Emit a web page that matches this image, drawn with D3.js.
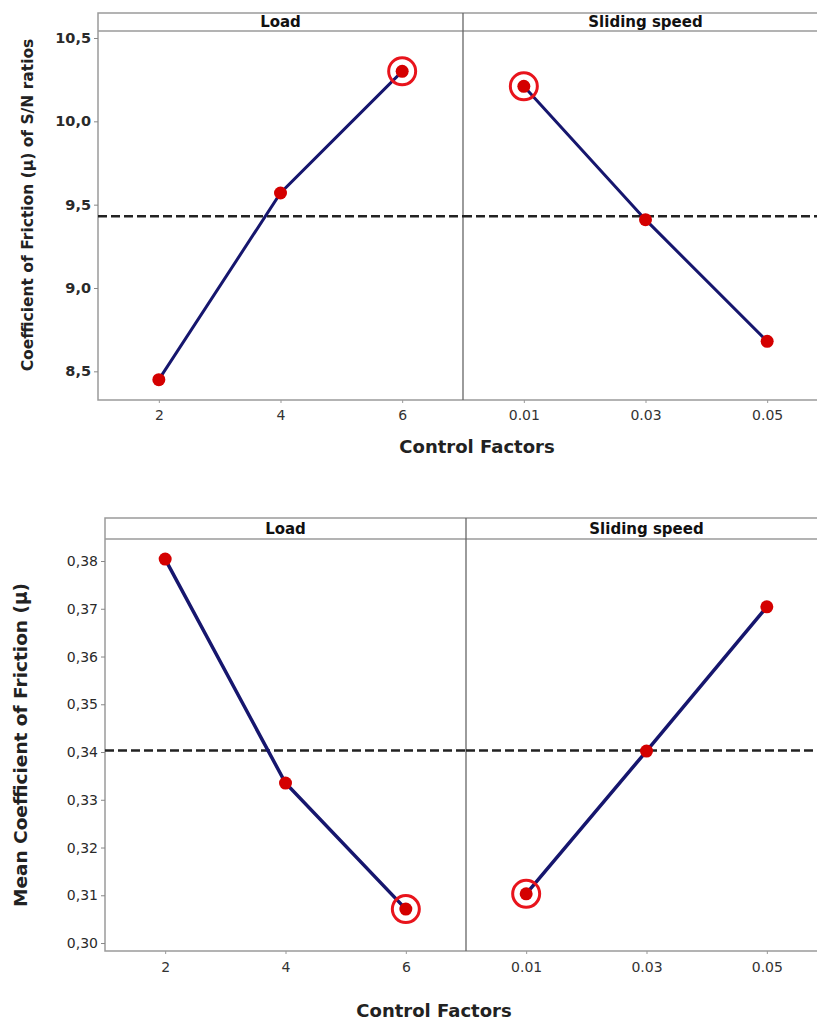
<!DOCTYPE html>
<html>
<head>
<meta charset="utf-8">
<script src="https://cdn.jsdelivr.net/npm/d3@7"></script>
<style>
  html, body { margin: 0; padding: 0; background: #fff; }
  svg { display: block; font-family: "DejaVu Sans", "Noto Sans", sans-serif; }
</style>
</head>
<body>
<svg id="chart" width="817" height="1021"></svg>
<script>
// ---- Data ----
const factors = ["Load", "Sliding speed"];
const loadLevels = ["2", "4", "6"];
const speedLevels = ["0.01", "0.03", "0.05"];

// Top chart: S/N ratios
const snLoad = [8.45, 9.57, 10.30];
const snSpeed = [10.21, 9.41, 8.68];
const snMean = 9.43;
const snTicks = [8.5, 9.0, 9.5, 10.0, 10.5];
const snHighlight = [2, 0];

// Bottom chart: means
const meanLoad = [0.3804, 0.3335, 0.3071];
const meanSpeed = [0.3103, 0.3402, 0.3704];
const meanMean = 0.3403;
const meanTicks = [0.30, 0.31, 0.32, 0.33, 0.34, 0.35, 0.36, 0.37, 0.38];
const meanHighlight = [2, 0];

const svg = d3.select("#chart");

function drawChart(cfg) {
  const g = svg.append("g");
  const y = d3.scaleLinear().domain(cfg.yDomain).range([cfg.bottom, cfg.stripBottom]);
  const panelEdges = [cfg.left, cfg.divider, cfg.right];
  const levels = [loadLevels, speedLevels];

  // frame
  g.append("rect").attr("x", cfg.left).attr("y", cfg.top)
    .attr("width", cfg.right - cfg.left).attr("height", cfg.bottom - cfg.top)
    .attr("fill", "#fff").attr("stroke", "#9a9a9a").attr("stroke-width", 1.5);
  g.append("line").attr("x1", cfg.left).attr("x2", cfg.right)
    .attr("y1", cfg.stripBottom).attr("y2", cfg.stripBottom)
    .attr("stroke", "#9a9a9a").attr("stroke-width", 1.5);
  g.append("line").attr("x1", cfg.divider).attr("x2", cfg.divider)
    .attr("y1", cfg.top).attr("y2", cfg.bottom)
    .attr("stroke", "#666").attr("stroke-width", 1.3);

  // y axis
  const yAxis = d3.axisLeft(y).tickValues(cfg.yTicks).tickSize(4).tickPadding(3)
    .tickFormat(d => d3.format(cfg.yFormat)(d).replace(".", ","));
  const ya = g.append("g").attr("transform", `translate(${cfg.left},0)`).call(yAxis);
  ya.select(".domain").remove();
  ya.selectAll(".tick line").attr("stroke", "#888");
  ya.selectAll(".tick text").attr("fill", "#2a2a2a")
    .style("font-family", "'DejaVu Sans', sans-serif")
    .style("font-size", cfg.yTickSize + "px").style("font-weight", cfg.yTickWeight);

  factors.forEach((f, i) => {
    const x0 = panelEdges[i], x1 = panelEdges[i + 1];
    const x = d3.scalePoint().domain(levels[i]).range([x0, x1]).padding(0.5);
    const vals = cfg.series[i];

    // strip label
    g.append("text")
      .attr("x", i === 0 ? (x0 + x1) / 2 : x(levels[i][1]))
      .attr("y", (cfg.top + cfg.stripBottom) / 2 + cfg.stripSize * 0.36)
      .attr("text-anchor", "middle").attr("fill", "#111")
      .style("font-size", cfg.stripSize + "px").style("font-weight", "bold").text(f);

    // x axis
    const xa = g.append("g").attr("transform", `translate(0,${cfg.bottom})`)
      .call(d3.axisBottom(x).tickSize(3).tickPadding(cfg.xTickPad));
    xa.select(".domain").remove();
    xa.selectAll(".tick line").attr("stroke", "#999");
    xa.selectAll(".tick text").attr("fill", "#333")
      .style("font-family", "'DejaVu Sans', sans-serif")
      .style("font-size", cfg.xTickSize + "px");

    // mean dashed line
    g.append("line").attr("x1", x0).attr("x2", x1)
      .attr("y1", y(cfg.mean)).attr("y2", y(cfg.mean))
      .attr("stroke", "#222").attr("stroke-width", 2.5).attr("stroke-dasharray", "9,4");

    // main line
    const line = d3.line().x((d, j) => x(levels[i][j])).y(d => y(d));
    g.append("path").datum(vals).attr("d", line)
      .attr("fill", "none").attr("stroke", "#16166e").attr("stroke-width", cfg.lineW);

    // highlight ring
    const h = cfg.highlight[i];
    g.append("circle").attr("cx", x(levels[i][h])).attr("cy", y(vals[h]))
      .attr("r", 13.5).attr("fill", "none").attr("stroke", "#e8141c").attr("stroke-width", 3);

    // points
    g.selectAll(null).data(vals).enter().append("circle")
      .attr("cx", (d, j) => x(levels[i][j])).attr("cy", d => y(d))
      .attr("r", cfg.dotR).attr("fill", "#d40000");
  });

  // axis titles
  g.append("text")
    .attr("transform", `translate(${cfg.yTitleX},${cfg.yTitleY}) rotate(-90)`)
    .attr("text-anchor", "middle").attr("fill", "#222")
    .style("font-size", cfg.yTitleSize + "px").style("font-weight", "bold").text(cfg.yTitle);
  g.append("text").attr("x", cfg.xTitleX).attr("y", cfg.xTitleY)
    .attr("text-anchor", "middle").attr("fill", "#222")
    .style("font-size", cfg.xTitleSize + "px").style("font-weight", "bold").text("Control Factors");
}

drawChart({
  left: 98, divider: 463, right: 828, top: 13, stripBottom: 31, bottom: 400,
  yDomain: [8.328, 10.542], yTicks: snTicks, yFormat: ".1f",
  yTickSize: 14.5, yTickWeight: "bold", xTickSize: 14, xTickPad: 7, stripSize: 15,
  series: [snLoad, snSpeed], mean: snMean, highlight: snHighlight, dotR: 6.5, lineW: 3,
  yTitle: "Coefficient of Friction (μ) of S/N ratios", yTitleX: 33, yTitleY: 205, yTitleSize: 15.5,
  xTitleX: 477, xTitleY: 453, xTitleSize: 18
});

drawChart({
  left: 105, divider: 466, right: 827, top: 518, stripBottom: 539, bottom: 951,
  yDomain: [0.29833, 0.38461], yTicks: meanTicks, yFormat: ".2f",
  yTickSize: 14, yTickWeight: "normal", xTickSize: 14, xTickPad: 8, stripSize: 15,
  series: [meanLoad, meanSpeed], mean: meanMean, highlight: meanHighlight, dotR: 6.5, lineW: 3.5,
  yTitle: "Mean Coefficient of Friction (μ)", yTitleX: 27, yTitleY: 745, yTitleSize: 18.5,
  xTitleX: 434, xTitleY: 1017, xTitleSize: 18
});
</script>
</body>
</html>
